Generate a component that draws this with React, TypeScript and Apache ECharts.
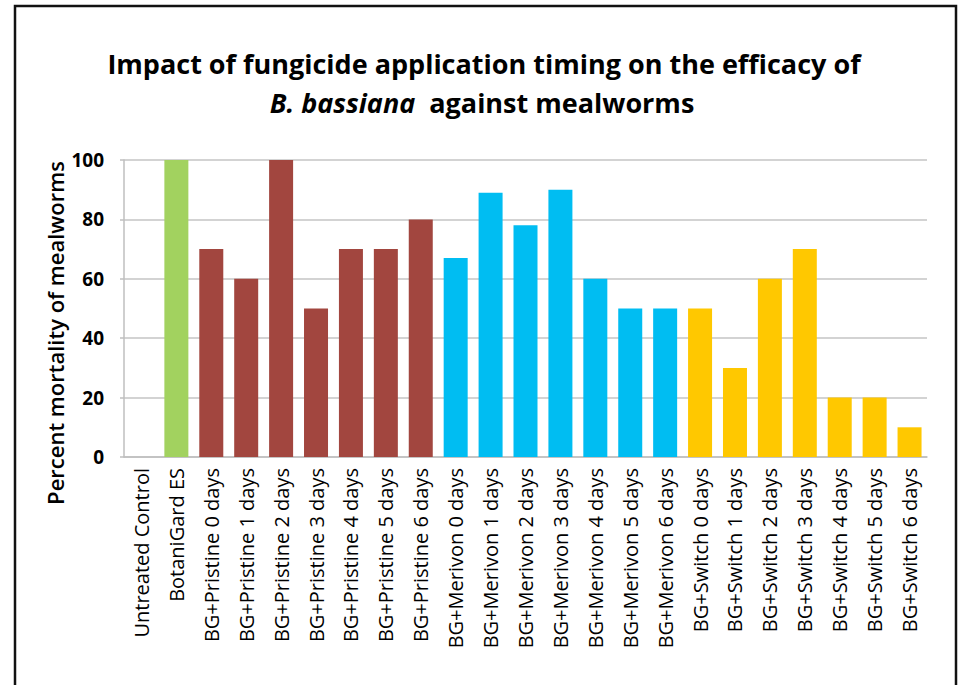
import React, { useEffect, useRef } from "react";
import * as echarts from "echarts";

const categories = [
  "Untreated Control",
  "BotaniGard ES",
  "BG+Pristine 0 days",
  "BG+Pristine 1 days",
  "BG+Pristine 2 days",
  "BG+Pristine 3 days",
  "BG+Pristine 4 days",
  "BG+Pristine 5 days",
  "BG+Pristine 6 days",
  "BG+Merivon 0 days",
  "BG+Merivon 1 days",
  "BG+Merivon 2 days",
  "BG+Merivon 3 days",
  "BG+Merivon 4 days",
  "BG+Merivon 5 days",
  "BG+Merivon 6 days",
  "BG+Switch 0 days",
  "BG+Switch 1 days",
  "BG+Switch 2 days",
  "BG+Switch 3 days",
  "BG+Switch 4 days",
  "BG+Switch 5 days",
  "BG+Switch 6 days",
];

const mortality = [
  0, 100, 70, 60, 100, 50, 70, 70, 80, 67, 89, 78, 90, 60, 50, 50, 50, 30, 60, 70, 20, 20, 10,
];

const groups = [
  "control", "botanigard",
  "pristine", "pristine", "pristine", "pristine", "pristine", "pristine", "pristine",
  "merivon", "merivon", "merivon", "merivon", "merivon", "merivon", "merivon",
  "switch", "switch", "switch", "switch", "switch", "switch", "switch",
];

const groupColors: Record<string, string> = {
  control: "#A2D25F",
  botanigard: "#A2D25F",
  pristine: "#A2463F",
  merivon: "#00BDF2",
  switch: "#FFC800",
};

const yTicks = [0, 20, 40, 60, 80, 100];

const FONT = "'Open Sans', 'Noto Sans', sans-serif";

export default function App() {
  const ref = useRef<HTMLDivElement>(null);
  useEffect(() => {
    document.body.style.margin = "0";
    if (!ref.current) return;
    const chart = echarts.init(ref.current, null, { renderer: "svg" });
    chart.setOption({
      animation: false,
      backgroundColor: "#ffffff",
      grid: { left: 124, right: 34, top: 160, bottom: 228, containLabel: false },
      xAxis: {
        type: "category",
        data: categories,
        axisLine: { show: true, lineStyle: { color: "#BFBFBF", width: 1.5 } },
        axisTick: { show: false },
        axisLabel: {
          rotate: 90,
          interval: 0,
          margin: 11,
          color: "#000",
          fontFamily: FONT,
          fontSize: 20,
        },
      },
      yAxis: {
        type: "value",
        min: yTicks[0],
        max: yTicks[yTicks.length - 1],
        interval: 20,
        axisLine: { show: true, lineStyle: { color: "#BFBFBF", width: 1.5 } },
        axisTick: { show: true, length: 4, lineStyle: { color: "#BFBFBF", width: 1.5 } },
        splitLine: { show: true, lineStyle: { color: "#C4C4C4", width: 1.5 } },
        axisLabel: {
          margin: 20,
          color: "#000",
          fontFamily: FONT,
          fontSize: 19,
          fontWeight: "bold",
        },
      },
      series: [
        {
          type: "bar",
          barWidth: 24,
          data: mortality.map((v, i) => ({
            value: v,
            itemStyle: { color: groupColors[groups[i]] },
          })),
        },
      ],
      graphic: [
        {
          type: "polyline",
          shape: { points: [[15, 700], [15, 6], [956, 6], [956, 700]] },
          style: { stroke: "#111", lineWidth: 2.5, fill: "none" },
          z: 10,
        },
        {
          type: "text",
          x: 484,
          y: 63,
          style: {
            text: "Impact of fungicide application timing on the efficacy of",
            fontFamily: FONT,
            fontWeight: "bold",
            fontSize: 27,
            fill: "#000",
            align: "center",
            verticalAlign: "middle",
          },
        },
        {
          type: "text",
          x: 482,
          y: 102,
          style: {
            text: "{i|B. bassiana}{b|  against mealworms}",
            verticalAlign: "middle",
            align: "center",
            rich: {
              i: { fontFamily: FONT, fontWeight: "bold", fontStyle: "italic", fontSize: 27, fill: "#000" },
              b: { fontFamily: FONT, fontWeight: "bold", fontSize: 27, fill: "#000" },
            },
          },
        },
        {
          type: "text",
          x: 55,
          y: 333,
          rotation: Math.PI / 2,
          style: {
            text: "Percent mortality of mealworms",
            fontFamily: FONT,
            fontWeight: 600,
            fontSize: 22,
            fill: "#000",
            align: "center",
            verticalAlign: "middle",
          },
        },
      ],
    });
    return () => chart.dispose();
  }, []);
  return <div ref={ref} style={{ width: 961, height: 685 }} />;
}
